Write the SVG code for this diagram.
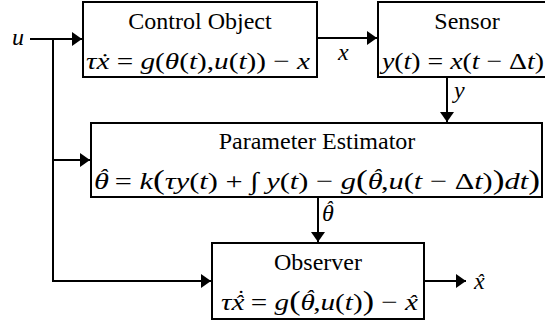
<svg xmlns="http://www.w3.org/2000/svg" width="545" height="327" viewBox="0 0 545 327">
<defs>
<marker id="ah" markerUnits="userSpaceOnUse" markerWidth="11" markerHeight="14" refX="10" refY="7" orient="auto">
<path d="M0,0 L10,7 L0,14 Z" fill="#000"/>
</marker>
</defs>
<rect width="545" height="327" fill="#fff"/>
<g id="connectors">
<g fill="none" stroke="#000" stroke-width="2" marker-end="url(#ah)">
<path d="M30,39 H82"/>
<path d="M53,39 V281 H211"/>
<path d="M53,160 H90"/>
<path d="M317,38 H377"/>
<path d="M447,77 V122"/>
<path d="M318,197 V242"/>
<path d="M424,281 H466"/>
</g>
<text font-family="Liberation Serif" font-size="24" font-style="italic" x="12" y="45">u</text>
<text font-family="Liberation Serif" font-size="24" font-style="italic" x="338" y="60">x</text>
<text font-family="Liberation Serif" font-size="24" font-style="italic" x="454" y="98">y</text>
<text font-family="Liberation Serif" font-size="24" font-style="italic" x="322" y="221">θ<tspan dx="-8" dy="-5" font-size="20">ˆ</tspan></text>
<text font-family="Liberation Serif" font-size="24" font-style="italic" x="474" y="289">x<tspan dx="-8" dy="0" font-size="20">ˆ</tspan></text>
</g>
<g id="control-object">
<rect fill="#fff" stroke="#000" stroke-width="2" x="83" y="2" width="234" height="75"/>
<text font-family="Liberation Serif" font-size="24" x="200" y="29" text-anchor="middle">Control Object</text>
<text font-family="Liberation Serif" font-size="24" x="86" y="69" textLength="224" lengthAdjust="spacingAndGlyphs"><tspan font-style="italic">τẋ</tspan> = <tspan font-style="italic">g</tspan>(<tspan font-style="italic">θ</tspan>(<tspan font-style="italic">t</tspan>),<tspan font-style="italic">u</tspan>(<tspan font-style="italic">t</tspan>)) − <tspan font-style="italic">x</tspan></text>
</g>
<g id="sensor">
<rect fill="#fff" stroke="#000" stroke-width="2" x="378" y="2" width="180" height="75"/>
<text font-family="Liberation Serif" font-size="24" x="467" y="29" text-anchor="middle">Sensor</text>
<text font-family="Liberation Serif" font-size="24" x="382" y="69" textLength="162" lengthAdjust="spacingAndGlyphs"><tspan font-style="italic">y</tspan>(<tspan font-style="italic">t</tspan>) = <tspan font-style="italic">x</tspan>(<tspan font-style="italic">t</tspan> − Δ<tspan font-style="italic">t</tspan>)</text>
</g>
<g id="parameter-estimator">
<rect fill="#fff" stroke="#000" stroke-width="2" x="91" y="123" width="451" height="74"/>
<text font-family="Liberation Serif" font-size="24" x="317" y="149" text-anchor="middle">Parameter Estimator</text>
<text font-family="Liberation Serif" font-size="24" x="94" y="189" textLength="446" lengthAdjust="spacingAndGlyphs"><tspan font-style="italic">θ</tspan><tspan font-style="italic" dx="-8" dy="-5" font-size="20">ˆ</tspan><tspan dy="5"> = </tspan><tspan font-style="italic">k</tspan><tspan font-size="28">(</tspan><tspan font-style="italic">τy</tspan>(<tspan font-style="italic">t</tspan>) + ∫ <tspan font-style="italic">y</tspan>(<tspan font-style="italic">t</tspan>) − <tspan font-style="italic">g</tspan><tspan font-size="28">(</tspan><tspan font-style="italic">θ</tspan><tspan font-style="italic" dx="-8" dy="-5" font-size="20">ˆ</tspan><tspan dy="5">,</tspan><tspan font-style="italic">u</tspan>(<tspan font-style="italic">t</tspan> − Δ<tspan font-style="italic">t</tspan>)<tspan font-size="28">)</tspan><tspan font-style="italic">dt</tspan><tspan font-size="28">)</tspan></text>
</g>
<g id="observer">
<rect fill="#fff" stroke="#000" stroke-width="2" x="212" y="243" width="212" height="76"/>
<text font-family="Liberation Serif" font-size="24" x="318" y="270" text-anchor="middle">Observer</text>
<text font-family="Liberation Serif" font-size="24" x="221" y="310" textLength="197" lengthAdjust="spacingAndGlyphs"><tspan font-style="italic">τx</tspan><tspan font-style="italic" dx="-8" dy="0" font-size="20">ˆ</tspan><tspan font-style="italic" dx="-6" dy="-5" font-size="20">˙</tspan><tspan dy="5"> = </tspan><tspan font-style="italic">g</tspan><tspan font-size="28">(</tspan><tspan font-style="italic">θ</tspan><tspan font-style="italic" dx="-8" dy="-5" font-size="20">ˆ</tspan><tspan dy="5">,</tspan><tspan font-style="italic">u</tspan>(<tspan font-style="italic">t</tspan>)<tspan font-size="28">)</tspan> − <tspan font-style="italic">x</tspan><tspan font-style="italic" dx="-8" font-size="20">ˆ</tspan></text>
</g>
</svg>
